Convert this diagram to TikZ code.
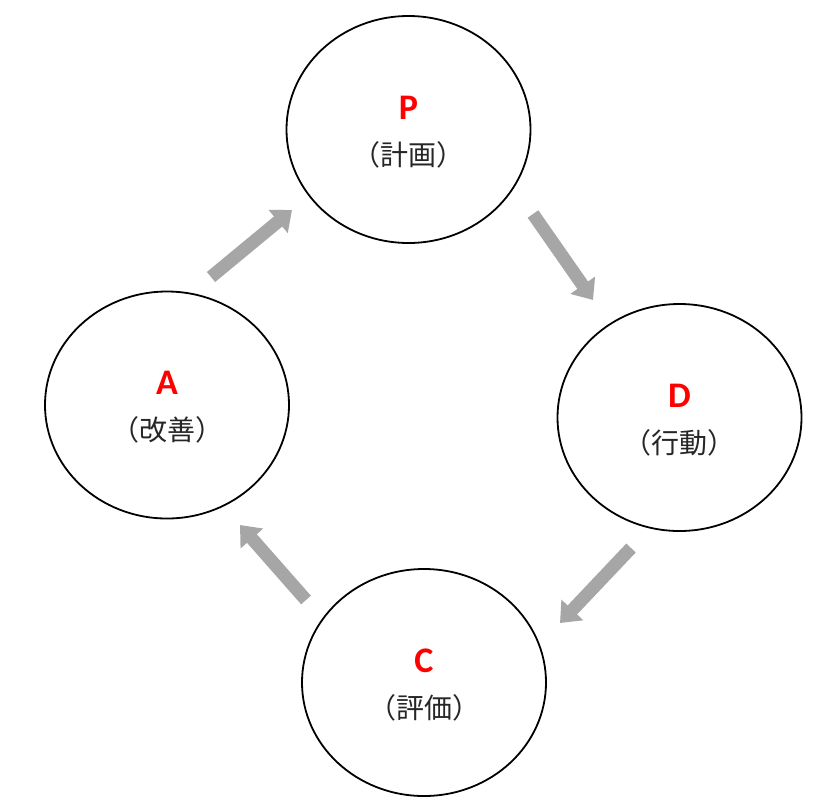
\documentclass[tikz,border=0pt]{standalone}
\usepackage{fontspec}
\setmainfont{Carlito}
\newfontfamily\jp{Noto Sans CJK JP}
\usetikzlibrary{shapes.geometric,arrows.meta,calc}
\definecolor{arrowgray}{HTML}{A6A6A6}
\definecolor{letterred}{HTML}{FF0000}
\tikzset{
  phase/.style={ellipse,draw=black,line width=1.8pt,fill=white,minimum width=244pt,minimum height=227pt,inner sep=0pt},
  letter/.style={anchor=base,inner sep=0pt,text=letterred,font=\fontsize{36}{36}\selectfont\bfseries},
  jptext/.style={anchor=base,inner sep=0pt,text=black!85,font=\jp\fontsize{28}{28}\selectfont},
  cyclearrow/.style={draw=arrowgray,line width=13pt,-{Triangle[width=29pt,length=18pt]}}
}
\begin{document}
\begin{tikzpicture}[x=1pt,y=-1pt]
\useasboundingbox[fill=white] (0,0) rectangle (835,807);
\node[phase] (P) at (408.5,129.5) {};
\node[phase] (D) at (679.5,417.5) {};
\node[phase] (C) at (424,682.5) {};
\node[phase] (A) at (167,405) {};
\foreach \n/\l/\t in {P/P/計画,D/D/行動,C/C/評価,A/A/改善}{
  \node[letter] (\n l) at ($(\n.center)+(0,-10.5)$) {\l};
  \node[jptext] (\n t) at ($(\n.center)+(0,35.5)$) {（\t）};
}
\coordinate (apt) at (211,277); \coordinate (aph) at (292,210);
\coordinate (pdt) at (533,214); \coordinate (pdh) at (593,300);
\coordinate (dct) at (631,548); \coordinate (dch) at (560,623);
\coordinate (cat) at (306,600); \coordinate (cah) at (240,525);
\draw[cyclearrow] (apt) -- (aph);
\draw[cyclearrow] (pdt) -- (pdh);
\draw[cyclearrow] (dct) -- (dch);
\draw[cyclearrow] (cat) -- (cah);
\end{tikzpicture}
\end{document}
